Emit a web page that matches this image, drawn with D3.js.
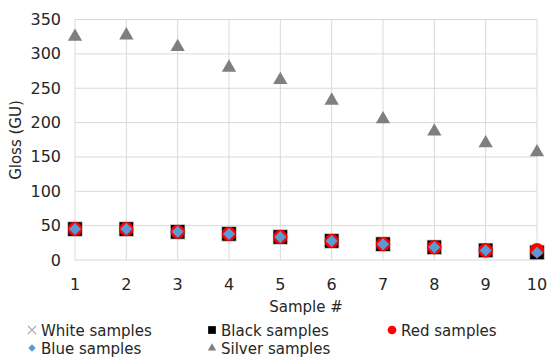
<!DOCTYPE html>
<html><head><meta charset="utf-8">
<script src="https://cdn.jsdelivr.net/npm/d3@7"></script>
<style>body{margin:0;background:#fff}svg{display:block}text{font-family:"DejaVu Sans",Verdana,sans-serif;fill:#262626}</style>
</head><body>
<script>
const samples = [1,2,3,4,5,6,7,8,9,10];
const white  = [45,45,41,38,33.5,27.7,23,18.5,14,11];
const black  = [45,45,41,38,33.5,27.7,23,18.5,14,11];
const red    = [45,45,41,38,33.5,27.7,23,18.5,14,14.5];
const blue   = [45,45,41,38,33.5,27.7,23,18.5,14,10.6];
const silver = [325,327,310,280,262,232,205,187,170,157];
const yTicks = [0,50,100,150,200,250,300,350];
const xTicks = [1,2,3,4,5,6,7,8,9,10];

const W=547,H=357;
const svg=d3.select("body").append("svg").attr("width",W).attr("height",H);
const x=d3.scaleLinear().domain([1,10]).range([75,537]);
const y=d3.scaleLinear().domain([0,350]).range([260,19.5]);
const grid="#d9d9d9";

svg.append("g").selectAll("line").data(yTicks).join("line")
  .attr("x1",x(1)).attr("x2",x(10)).attr("y1",d=>y(d)).attr("y2",d=>y(d))
  .attr("stroke",grid).attr("stroke-width",1);
svg.append("g").selectAll("line").data(xTicks).join("line")
  .attr("y1",y(0)).attr("y2",y(350)).attr("x1",d=>x(d)).attr("x2",d=>x(d))
  .attr("stroke",grid).attr("stroke-width",1);

svg.append("g").selectAll("text").data(yTicks).join("text")
  .attr("x",61).attr("y",d=>y(d)+5.5).attr("text-anchor","end")
  .attr("font-size",16).text(d=>d);
svg.append("g").selectAll("text").data(xTicks).join("text")
  .attr("x",d=>x(d)).attr("y",290).attr("text-anchor","middle")
  .attr("font-size",16).text(d=>d);

svg.append("text").attr("transform","translate(21,140) rotate(-90)")
  .attr("text-anchor","middle").attr("font-size",15).text("Gloss (GU)");
svg.append("text").attr("x",306).attr("y",312).attr("text-anchor","middle")
  .attr("font-size",15).text("Sample #");

const diamond = s => d3.symbol().type(d3.symbolSquare).size(s);
function series(vals, path, fill, stroke, rot){
  svg.append("g").selectAll("path").data(samples).join("path")
    .attr("transform",(d,i)=>`translate(${x(d)},${y(vals[i])})${rot?" rotate(45)":""}`)
    .attr("d",path).attr("fill",fill).attr("stroke",stroke||"none").attr("stroke-width",stroke?0.8:0);
}
series(white, d3.symbol().type(d3.symbolX).size(60), "none", "#a5a5a5");
series(black, d3.symbol().type(d3.symbolSquare).size(215), "#000", "#e0e0e0");
series(red, d3.symbol().type(d3.symbolCircle).size(160), "#ff0000");
series(blue, diamond(72), "#5b9bd5", null, true);
series(silver, d3.symbol().type(d3.symbolTriangle).size(88), "#7f7f7f");

const legend = [
  {n:"White samples",s:d3.symbol().type(d3.symbolX).size(45),f:"none",st:"#a5a5a5",x:32,y:330},
  {n:"Black samples",s:d3.symbol().type(d3.symbolSquare).size(60),f:"#000",x:212,y:330},
  {n:"Red samples",s:d3.symbol().type(d3.symbolCircle).size(60),f:"#ff0000",x:392,y:330},
  {n:"Blue samples",s:diamond(28),f:"#5b9bd5",x:32,y:348,r:true},
  {n:"Silver samples",s:d3.symbol().type(d3.symbolTriangle).size(30),f:"#7f7f7f",x:212,y:348}
];
const lg=svg.append("g").selectAll("g").data(legend).join("g")
  .attr("transform",d=>`translate(${d.x},${d.y})`);
lg.append("path").attr("d",d=>d.s()).attr("transform",d=>d.r?"rotate(45)":null)
  .attr("fill",d=>d.f).attr("stroke",d=>d.st||"none").attr("stroke-width",1.2);
lg.append("text").attr("x",9).attr("y",5.5).attr("font-size",15).text(d=>d.n);
</script>
</body></html>
